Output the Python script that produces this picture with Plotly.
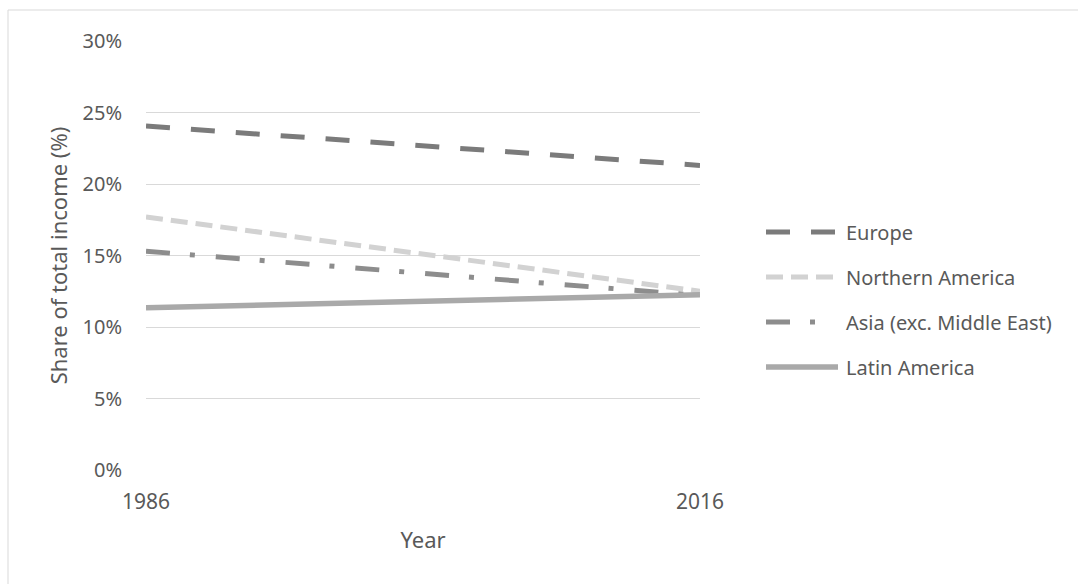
import plotly.graph_objects as go

# Share of total income by region, 1986 vs 2016
years = [1986, 2016]
regions = ["Europe", "Northern America", "Asia (exc. Middle East)", "Latin America"]
europe = [24.05, 21.3]
northern_america = [17.7, 12.5]
asia = [15.3, 12.2]
latin_america = [11.35, 12.25]
y_ticks = [0, 5, 10, 15, 20, 25, 30]
y_tick_labels = ["0%", "5%", "10%", "15%", "20%", "25%", "30%"]

series_values = [europe, northern_america, asia, latin_america]
colors = ["#7b7b7b", "#d2d2d2", "#8d8d8d", "#a9a9a9"]
dashes = ["24px,21px", "17px,8px", "24px,20px,5px,21px", "solid"]
widths = [5, 5, 5, 5.5]
# right end of each legend key (px); the dash-dot key stops after its dot
key_ends = [838, 838, 818, 838]

W, H = 1078, 584
L, R, T, B = 146, 378, 41, 114
plot_w = W - L - R
plot_h = H - T - B


def px_x(x):
    return (x - L) / plot_w


def px_y(y):
    return (H - B - y) / plot_h


font_family = "Noto Sans, Open Sans, sans-serif"
text_color = "#595959"

fig = go.Figure()
for name, vals, c, d, w in zip(regions, series_values, colors, dashes, widths):
    fig.add_trace(go.Scatter(
        x=years, y=vals, mode="lines", name=name,
        line=dict(color=c, dash=d, width=w),
        showlegend=False,
    ))

shapes = [
    # outer chart frame
    dict(type="rect", xref="paper", yref="paper",
         x0=px_x(8), x1=px_x(W + 20), y0=px_y(H + 20), y1=px_y(10),
         line=dict(color="#d9d9d9", width=1), fillcolor="rgba(0,0,0,0)", layer="below"),
]
annotations = []

# legend keys on the right
legend_y = [232, 277, 322, 367]
for name, c, d, w, ly, ke in zip(regions, colors, dashes, widths, legend_y, key_ends):
    shapes.append(dict(type="line", xref="paper", yref="paper",
                       x0=px_x(766), x1=px_x(ke), y0=px_y(ly), y1=px_y(ly),
                       line=dict(color=c, dash=d, width=w)))
    annotations.append(dict(xref="paper", yref="paper", x=px_x(844), y=px_y(ly),
                            text=name, showarrow=False, xanchor="left", yanchor="middle",
                            font=dict(family=font_family, size=20, color=text_color)))

fig.update_layout(
    width=W, height=H,
    margin=dict(l=L, r=R, t=T, b=B, pad=0),
    paper_bgcolor="white", plot_bgcolor="white",
    font=dict(family=font_family, color=text_color, size=20),
    shapes=shapes, annotations=annotations,
    xaxis=dict(
        range=[1986, 2016], tickvals=years, ticktext=[str(v) for v in years],
        showgrid=False, zeroline=False, showline=False,
        tickfont=dict(size=21, color=text_color), ticklabelstandoff=17,
        title=dict(text="Year", font=dict(size=22, color=text_color), standoff=18),
    ),
    yaxis=dict(
        range=[0, 30], tickvals=y_ticks, ticktext=y_tick_labels,
        showgrid=True, gridcolor="#d9d9d9", gridwidth=1,
        zeroline=False, showline=False,
        tickfont=dict(size=20, color=text_color), ticklabelstandoff=23,
        title=dict(text="Share of total income (%)", font=dict(size=22, color=text_color), standoff=8),
    ),
)

fig.write_html("out.html")
